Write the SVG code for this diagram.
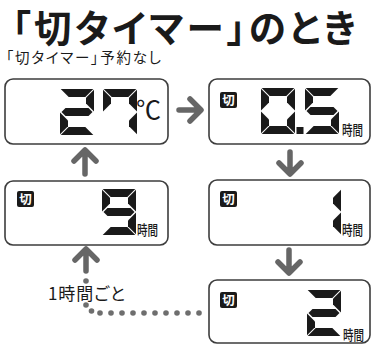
<svg xmlns="http://www.w3.org/2000/svg" width="372" height="345" viewBox="0 0 372 345">
<style>
.jp{font-family:"Noto Sans CJK JP","Noto Sans CJK SC",sans-serif;fill:#1a1a1a}
.palt{font-feature-settings:"palt" 1}
.box{fill:#fff;stroke:#3d3d3d;stroke-width:1.6}
.seg{fill:#1a1a1a}
.arr{fill:none;stroke:#666;stroke-width:5.5;stroke-linecap:round;stroke-linejoin:round}
.dot{fill:#6e6e6e}
.icon{fill:#1a1a1a}
.icontx{font-family:"Noto Sans CJK JP",sans-serif;font-size:12.5px;font-weight:700;fill:#fff}
.unit{font-family:"Noto Sans CJK JP",sans-serif;font-size:14px;font-weight:500;fill:#1a1a1a}
</style>
<defs>
<polygon id="sa" points="0.7,0 33.3,0 25.3,8 8.7,8"/>
<polygon id="sb" points="34,0.7 26,8.7 26,14.5 34,22.5"/>
<polygon id="sc" points="34,23.5 26,31.5 26,37.3 34,45.3"/>
<polygon id="sd" points="0.7,46 33.3,46 25.3,38 8.7,38"/>
<polygon id="se" points="0,23.5 8,31.5 8,37.3 0,45.3"/>
<polygon id="sf" points="0,0.7 8,8.7 8,14.5 0,22.5"/>
<polygon id="sg" points="1.5,23 5.5,19 28.5,19 32.5,23 28.5,27 5.5,27"/>
</defs>
<rect width="372" height="345" fill="#fff"/>

<text class="jp palt" x="12" y="42" font-size="37.5" font-weight="700" textLength="344" lengthAdjust="spacing">「切タイマー」のとき</text>
<text class="jp palt" x="6" y="63" font-size="14.5" textLength="155" lengthAdjust="spacing">「切タイマー」予約なし</text>

<g id="connectors">
<path class="arr" d="M179,110 H200 M190,99 L201,110 L190,121"/>
<path class="arr" d="M290,152 V172 M279,163 L290,174 L301,163"/>
<path class="arr" d="M289,250 V271 M278,262 L289,273 L300,262"/>
<path class="arr" d="M85,174 V152 M74,161 L85,150 L96,161"/>
<path class="arr" d="M86,271 V251 M75,260 L86,249 L97,260"/>
<circle class="dot" cx="86" cy="281" r="2.8"/>
<circle class="dot" cx="86" cy="305" r="2.8"/>
<circle class="dot" cx="91.5" cy="311" r="2.8"/>
<circle class="dot" cx="100" cy="313" r="2.8"/>
<circle class="dot" cx="111" cy="313" r="2.8"/>
<circle class="dot" cx="122" cy="313" r="2.8"/>
<circle class="dot" cx="133" cy="313" r="2.8"/>
<circle class="dot" cx="144" cy="313" r="2.8"/>
<circle class="dot" cx="155" cy="313" r="2.8"/>
<circle class="dot" cx="166" cy="313" r="2.8"/>
<circle class="dot" cx="177" cy="313" r="2.8"/>
<circle class="dot" cx="188" cy="313" r="2.8"/>
<circle class="dot" cx="199" cy="313" r="2.8"/>
<text class="jp palt" x="48" y="300" font-size="17" textLength="77" lengthAdjust="spacing">1時間ごと</text>
</g>

<g id="box-27c">
<rect class="box" x="5" y="79" width="163" height="65" rx="8"/>
<g class="seg" transform="translate(60,89)"><use href="#sa"/><use href="#sb"/><use href="#sg"/><use href="#se"/><use href="#sd"/></g>
<g class="seg" transform="translate(103,89)"><use href="#sa"/><use href="#sb"/><use href="#sc"/><use href="#sf"/></g>
<text class="jp" x="136" y="119" font-size="25">℃</text>
</g>

<g id="box-05h">
<rect class="box" x="209" y="79" width="161" height="65" rx="8"/>
<rect class="icon" x="220" y="92" width="17" height="16" rx="2"/>
<text class="icontx" x="228.5" y="104.5" text-anchor="middle">切</text>
<g class="seg" transform="translate(261,88)"><use href="#sa"/><use href="#sb"/><use href="#sc"/><use href="#sd"/><use href="#se"/><use href="#sf"/></g>
<rect class="seg" x="296.5" y="127" width="7" height="7"/>
<g class="seg" transform="translate(305,88)"><use href="#sa"/><use href="#sf"/><use href="#sg"/><use href="#sc"/><use href="#sd"/></g>
<text class="unit" x="342" y="135" textLength="21" lengthAdjust="spacingAndGlyphs">時間</text>
</g>

<g id="box-9h">
<rect class="box" x="5" y="181" width="163" height="64" rx="8"/>
<rect class="icon" x="17" y="191" width="17" height="16" rx="2"/>
<text class="icontx" x="25.5" y="203.5" text-anchor="middle">切</text>
<g class="seg" transform="translate(102,189)"><use href="#sa"/><use href="#sb"/><use href="#sc"/><use href="#sd"/><use href="#sf"/><use href="#sg"/></g>
<text class="unit" x="137" y="235" textLength="21" lengthAdjust="spacingAndGlyphs">時間</text>
</g>

<g id="box-1h">
<rect class="box" x="209" y="180" width="161" height="65" rx="8"/>
<rect class="icon" x="220" y="191" width="17" height="16" rx="2"/>
<text class="icontx" x="228.5" y="203.5" text-anchor="middle">切</text>
<g class="seg" transform="translate(307,189)"><use href="#sb"/><use href="#sc"/></g>
<text class="unit" x="342" y="235" textLength="21" lengthAdjust="spacingAndGlyphs">時間</text>
</g>

<g id="box-2h">
<rect class="box" x="209" y="280" width="161" height="63" rx="8"/>
<rect class="icon" x="220" y="292" width="17" height="16" rx="2"/>
<text class="icontx" x="228.5" y="304.5" text-anchor="middle">切</text>
<g class="seg" transform="translate(307,290)"><use href="#sa"/><use href="#sb"/><use href="#sg"/><use href="#se"/><use href="#sd"/></g>
<text class="unit" x="343" y="340" textLength="21" lengthAdjust="spacingAndGlyphs">時間</text>
</g>
</svg>
